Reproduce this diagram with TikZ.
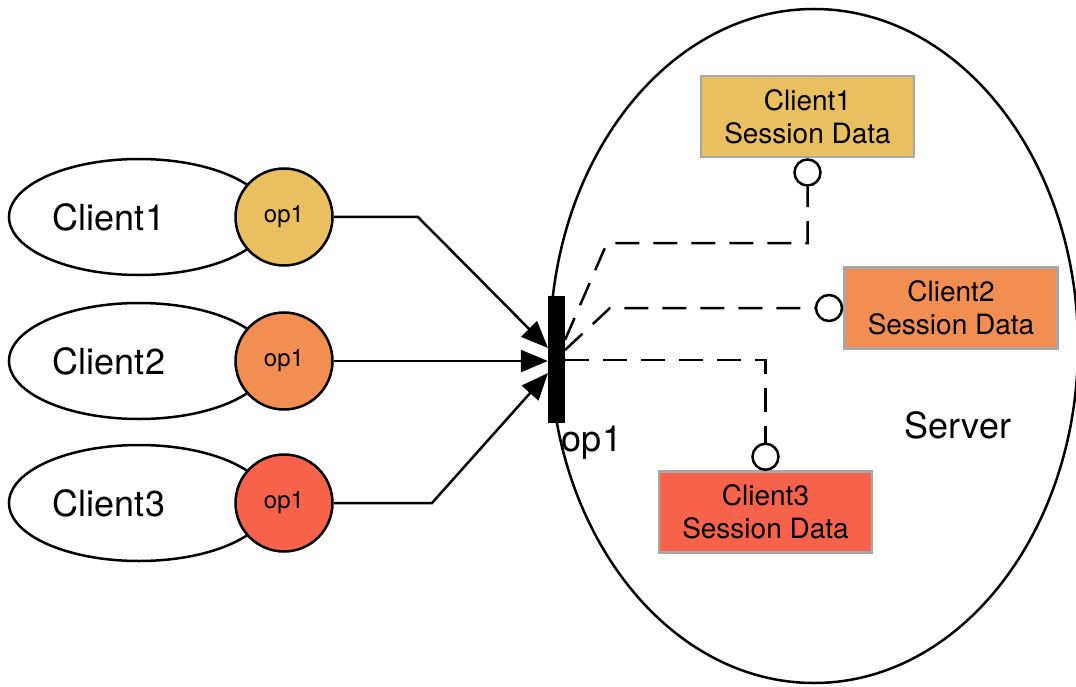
\documentclass[tikz,border=0pt]{standalone}
\usepackage{fontspec}
\setmainfont{TeX Gyre Heros}
\usetikzlibrary{arrows.meta,shapes.geometric}

\definecolor{cyellow}{HTML}{E9BF5F}
\definecolor{corange}{HTML}{F38E52}
\definecolor{cred}{HTML}{F6634A}
\definecolor{boxedge}{HTML}{A8A8A8}

\tikzset{
  client/.style={draw, ellipse, line width=2.5pt, minimum width=260pt, minimum height=116pt, inner sep=0pt},
  bigtext/.style={font=\fontsize{36}{42}\selectfont, inner sep=0pt},
  opcircle/.style={draw, circle, line width=2.5pt, minimum size=97pt, inner sep=0pt, font=\fontsize{24}{28}\selectfont},
  sessbox/.style={draw=boxedge, line width=2.5pt, minimum width=213pt, minimum height=81pt, inner sep=0pt,
                  align=center, font=\fontsize{28}{33}\selectfont},
  port/.style={draw, circle, line width=2.5pt, fill=white, minimum size=26pt, inner sep=0pt},
  call/.style={line width=2.5pt, -{Triangle[length=27pt,width=22pt]}},
  link/.style={line width=2.5pt, dash pattern=on 24pt off 14pt},
}

\begin{document}
\begin{tikzpicture}[x=1pt, y=-1pt]
  \useasboundingbox (0,0) rectangle (1076,687);
  \begin{scope}
    \clip (0,0) rectangle (1076,687);
    % server
    \node[draw, ellipse, line width=2.5pt, minimum width=528pt, minimum height=674pt, inner sep=0pt] (server) at (814,346) {};
  \end{scope}
  \node[bigtext] (servertext) at (958,425) {Server};

  % clients with their op1 calls
  \node[client] (client1) at (139,217) {};
  \node[client] (client2) at (139,361) {};
  \node[client] (client3) at (139,503) {};
  \node[bigtext] (client1text) at (109,217) {Client1};
  \node[bigtext] (client2text) at (109,361) {Client2};
  \node[bigtext] (client3text) at (109,503) {Client3};
  \node[opcircle, fill=cyellow] (op1a) at (284,217) {op1};
  \node[opcircle, fill=corange] (op1b) at (284,361) {op1};
  \node[opcircle, fill=cred]    (op1c) at (284,503) {op1};

  % op1 entry point on the server
  \node[fill=black, minimum width=17pt, minimum height=127pt, inner sep=0pt] (bar) at (556.5,359.5) {};
  \node[bigtext] (bartext) at (592,443) {op1};

  \coordinate (bend1) at (418,217);
  \coordinate (bend3) at (432,503);
  \coordinate (in1) at (548,348);
  \coordinate (in3) at (548,373);
  \draw[call] (op1a.east) -- (bend1) -- (in1);
  \draw[call] (op1b.east) -- (bar.west |- op1b.east);
  \draw[call] (op1c.east) -- (bend3) -- (in3);

  % session data
  \node[sessbox, fill=cyellow] (sess1) at (807.5,116.5) {Client1\\Session Data};
  \node[sessbox, fill=corange] (sess2) at (951,308) {Client2\\Session Data};
  \node[sessbox, fill=cred]    (sess3) at (765.5,512) {Client3\\Session Data};
  \node[port, anchor=north] (port1) at (sess1.south) {};
  \node[port, anchor=east]  (port2) at (sess2.west) {};
  \node[port, anchor=south] (port3) at (sess3.south |- 0,471) {};

  \coordinate (out1) at (565,340);
  \coordinate (out2) at (565,350);
  \coordinate (out3) at (565,360);
  \coordinate (knee1) at (607,243);
  \coordinate (knee2) at (610,308);
  \draw[link] (out1) -- (knee1) -- (port1.south |- knee1) -- (port1.south);
  \draw[link] (out2) -- (knee2) -- (port2.west);
  \draw[link] (out3) -- (port3.north |- out3) -- (port3.north);
\end{tikzpicture}
\end{document}
